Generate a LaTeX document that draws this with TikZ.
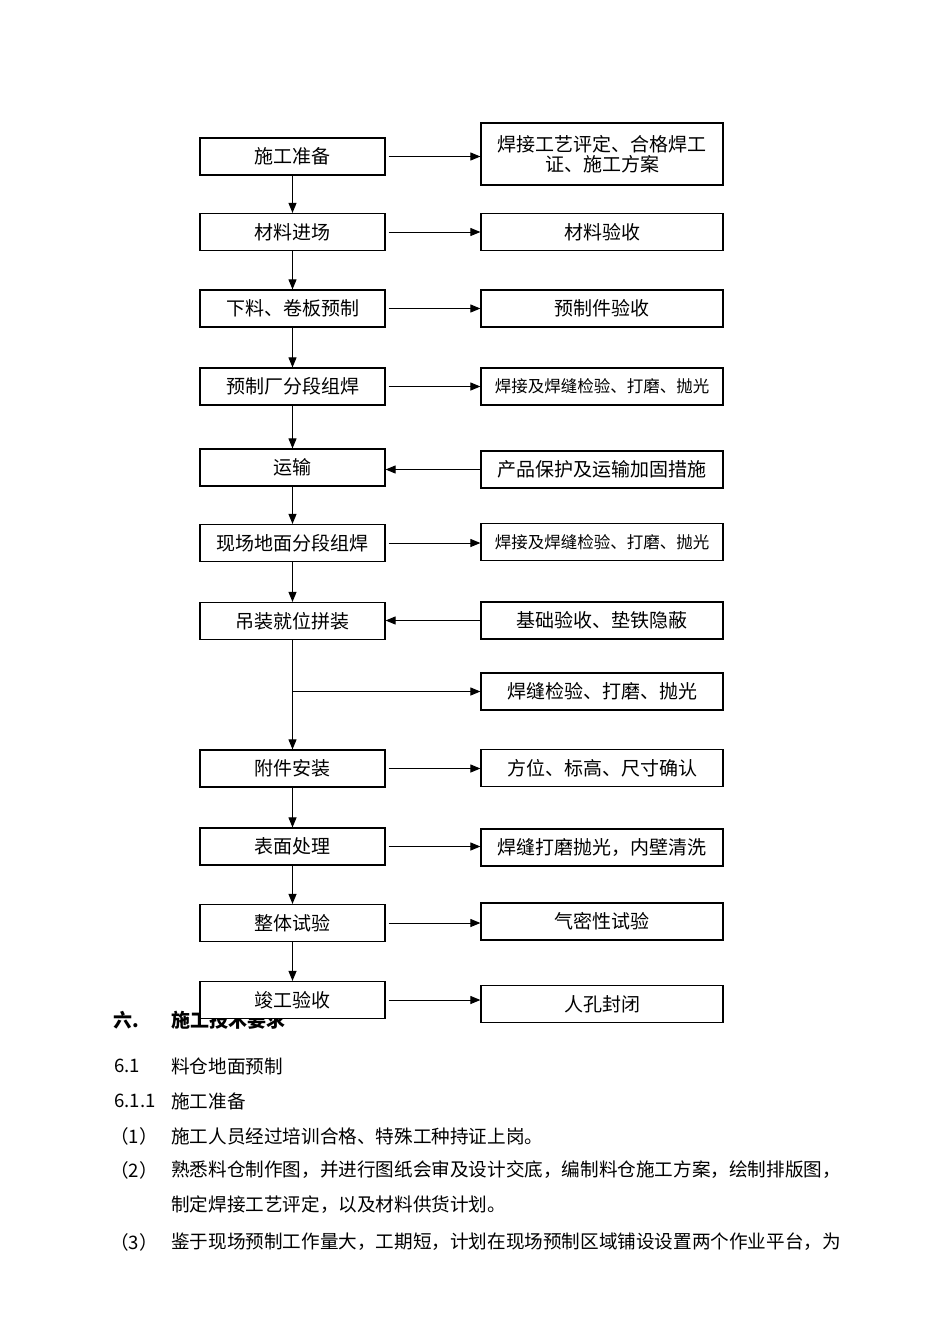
\documentclass[tikz,border=0pt]{standalone}
\usepackage{fontspec}
\setmainfont{Noto Sans CJK SC}
\usetikzlibrary{arrows.meta}

\tikzset{
  stepbox/.style={draw, line width=1.2pt, fill=white, minimum width=185pt,
    minimum height=37pt, inner sep=0pt, font=\fontsize{19}{21}\selectfont},
  checkbox/.style={draw, line width=1.2pt, fill=white, minimum width=242pt,
    minimum height=37pt, inner sep=0pt, align=center, font=\fontsize{19}{20}\selectfont},
  smalltext/.style={font=\fontsize{16.5}{18}\selectfont},
  flow/.style={line width=1pt, -{Triangle[length=10pt,width=8pt]}},
  bodytext/.style={anchor=west, inner sep=0pt, font=\fontsize{18.6}{21}\selectfont}
}

\begin{document}
\begin{tikzpicture}[x=1pt,y=-1pt]
\useasboundingbox (0,0) rectangle (950,1344);

% heading first, the last box is drawn over it
\node[bodytext, font=\fontsize{19}{21}\selectfont\bfseries] (h6) at (113,1020) {六.};
\node[bodytext, font=\fontsize{19}{21}\selectfont\bfseries] (h6t) at (171,1020) {施工技术要求};

% left column: steps
\node[stepbox] (prep)  at (292.5,156.5) {施工准备};
\node[stepbox] (matl)  at (292.5,232)   {材料进场};
\node[stepbox] (cut)   at (292.5,308.5) {下料、卷板预制};
\node[stepbox] (shop)  at (292.5,386.5) {预制厂分段组焊};
\node[stepbox] (trans) at (292.5,467.5) {运输};
\node[stepbox] (site)  at (292.5,543)   {现场地面分段组焊};
\node[stepbox] (lift)  at (292.5,621)   {吊装就位拼装};
\node[stepbox] (att)   at (292.5,768.5) {附件安装};
\node[stepbox] (surf)  at (292.5,846.5) {表面处理};
\node[stepbox] (test)  at (292.5,923)   {整体试验};
\node[stepbox] (done)  at (292.5,1000)  {竣工验收};

% right column: checks
\node[checkbox, minimum height=62pt] (cprep) at (602,154) {焊接工艺评定、合格焊工\\证、施工方案};
\node[checkbox] (cmatl)  at (602,232)   {材料验收};
\node[checkbox] (ccut)   at (602,308.5) {预制件验收};
\node[checkbox, smalltext] (cshop) at (602,386.5) {焊接及焊缝检验、打磨、抛光};
\node[checkbox] (ctrans) at (602,469.5) {产品保护及运输加固措施};
\node[checkbox, smalltext] (csite) at (602,542) {焊接及焊缝检验、打磨、抛光};
\node[checkbox] (clift)  at (602,620.5) {基础验收、垫铁隐蔽};
\node[checkbox] (cweld)  at (602,691.5) {焊缝检验、打磨、抛光};
\node[checkbox] (catt)   at (602,768)   {方位、标高、尺寸确认};
\node[checkbox] (csurf)  at (602,847.5) {焊缝打磨抛光，内壁清洗};
\node[checkbox] (ctest)  at (602,921.5) {气密性试验};
\node[checkbox] (cdone)  at (602,1004)  {人孔封闭};

% main flow
\foreach \a/\b in {prep/matl, matl/cut, cut/shop, shop/trans, trans/site,
                   site/lift, lift/att, att/surf, surf/test, test/done}
  \draw[flow] (\a.south) -- (\b.north);

% side arrows
\foreach \a/\b in {prep/cprep, matl/cmatl, cut/ccut, shop/cshop, site/csite,
                   att/catt, surf/csurf, test/ctest, done/cdone}
  \draw[flow] ([xshift=3pt]\a.east) -- (\a.east -| \b.west);
\foreach \a/\b in {ctrans/trans, clift/lift}
  \draw[flow] (\a.west) -- (\a.west -| \b.east);
\coordinate (br) at (lift.south |- cweld.west);
\draw[flow] (br) -- (cweld.west);

% text below
\node[bodytext] (s61)   at (114,1066) {6.1};
\node[bodytext] (s61t)  at (171,1066) {料仓地面预制};
\node[bodytext] (s611)  at (114,1101) {6.1.1};
\node[bodytext] (s611t) at (171,1101) {施工准备};
\node[bodytext] (p1)    at (110,1136) {（1）};
\node[bodytext] (p1t)   at (171,1136) {施工人员经过培训合格、特殊工种持证上岗。};
\node[bodytext] (p2)    at (110,1170) {（2）};
\node[bodytext] (p2t)   at (171,1170) {熟悉料仓制作图，并进行图纸会审及设计交底，编制料仓施工方案，绘制排版图，};
\node[bodytext] (p2u)   at (171,1205) {制定焊接工艺评定，以及材料供货计划。};
\node[bodytext] (p3)    at (110,1242) {（3）};
\node[bodytext] (p3t)   at (171,1242) {鉴于现场预制工作量大，工期短，计划在现场预制区域铺设设置两个作业平台，为};
\end{tikzpicture}
\end{document}
